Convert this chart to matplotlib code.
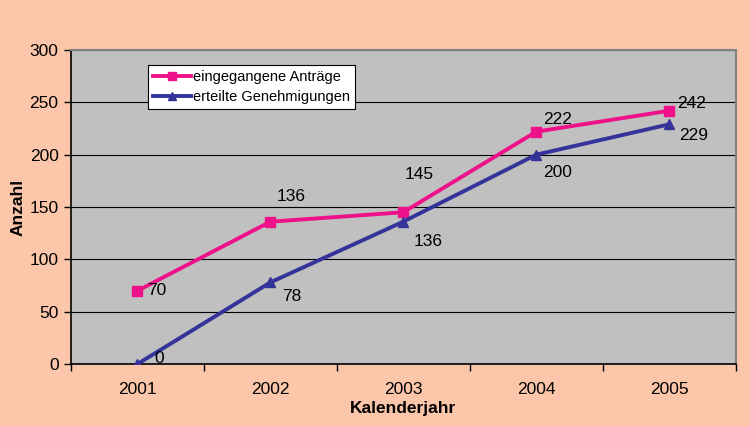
import matplotlib.pyplot as plt
import numpy as np

plt.rcParams['font.family'] = ['Liberation Sans', 'DejaVu Sans']

# Data
jahre = ["2001", "2002", "2003", "2004", "2005"]
antraege = [70, 136, 145, 222, 242]
genehmigungen = [0, 78, 136, 200, 229]

BG = "#FBC6A9"
PLOT_BG = "#C0C0C0"
PINK = "#EE118A"
NAVY = "#333399"

fig = plt.figure(figsize=(7.5, 4.26), dpi=100, facecolor=BG)
ax = fig.add_axes([0.0947, 0.1455, 0.886, 0.737])
ax.set_facecolor(PLOT_BG)

x = np.arange(len(jahre))
ax.plot(x, antraege, color=PINK, lw=2.8, marker="s", markersize=7,
        label="eingegangene Anträge", zorder=3)
ax.plot(x, genehmigungen, color=NAVY, lw=2.8, marker="^", markersize=7,
        label="erteilte Genehmigungen", zorder=3)

# data labels (offsets in pixels, left edge / vertical centre)
pink_off = [(10, 0), (6, 25), (1, 38), (7, 12), (8, 7)]
navy_off = [(17, 6), (12, -14), (10, -20), (7, -18), (10, -11)]
for i, v in enumerate(antraege):
    ax.annotate(str(v), (x[i], v), xytext=pink_off[i], textcoords="offset pixels",
                ha="left", va="center", fontsize=12.5, color="black", zorder=4)
for i, v in enumerate(genehmigungen):
    ax.annotate(str(v), (x[i], v), xytext=navy_off[i], textcoords="offset pixels",
                ha="left", va="center", fontsize=12.5, color="black", zorder=4)

ax.set_xlim(-0.5, len(jahre) - 0.5)
ax.set_ylim(0, 300)
ax.set_yticks(range(0, 301, 50))
ax.yaxis.grid(True, color="black", lw=0.8)
ax.set_axisbelow(True)

# category ticks at boundaries, labels centred
ax.set_xticks(np.arange(-0.5, len(jahre), 1.0))
ax.set_xticklabels([])
ax.set_xticks(x, minor=True)
ax.set_xticklabels(jahre, minor=True)
ax.tick_params(axis="x", which="minor", length=0, pad=13, labelsize=12.5)
ax.tick_params(axis="x", which="major", length=5, width=1)
ax.tick_params(axis="y", length=5, width=1, labelsize=12.5, pad=4)

for s in ["left", "bottom"]:
    ax.spines[s].set_color("black")
    ax.spines[s].set_linewidth(1.2)
for s in ["top", "right"]:
    ax.spines[s].set_color("#808080")
    ax.spines[s].set_linewidth(1.5)

ax.set_ylabel("Anzahl", fontsize=12.5, fontweight="bold", labelpad=3)
ax.set_xlabel("Kalenderjahr", fontsize=12.5, fontweight="bold", labelpad=3)

leg = ax.legend(loc="upper left", bbox_to_anchor=(0.116, 0.952), fontsize=10.5,
                frameon=True, fancybox=False, edgecolor="black", framealpha=1,
                handlelength=2.6, handletextpad=0.1, borderpad=0.35,
                labelspacing=0.4, markerscale=0.8, borderaxespad=0)
leg.get_frame().set_linewidth(0.8)

fig.savefig("out.png", dpi=100, facecolor=BG)
